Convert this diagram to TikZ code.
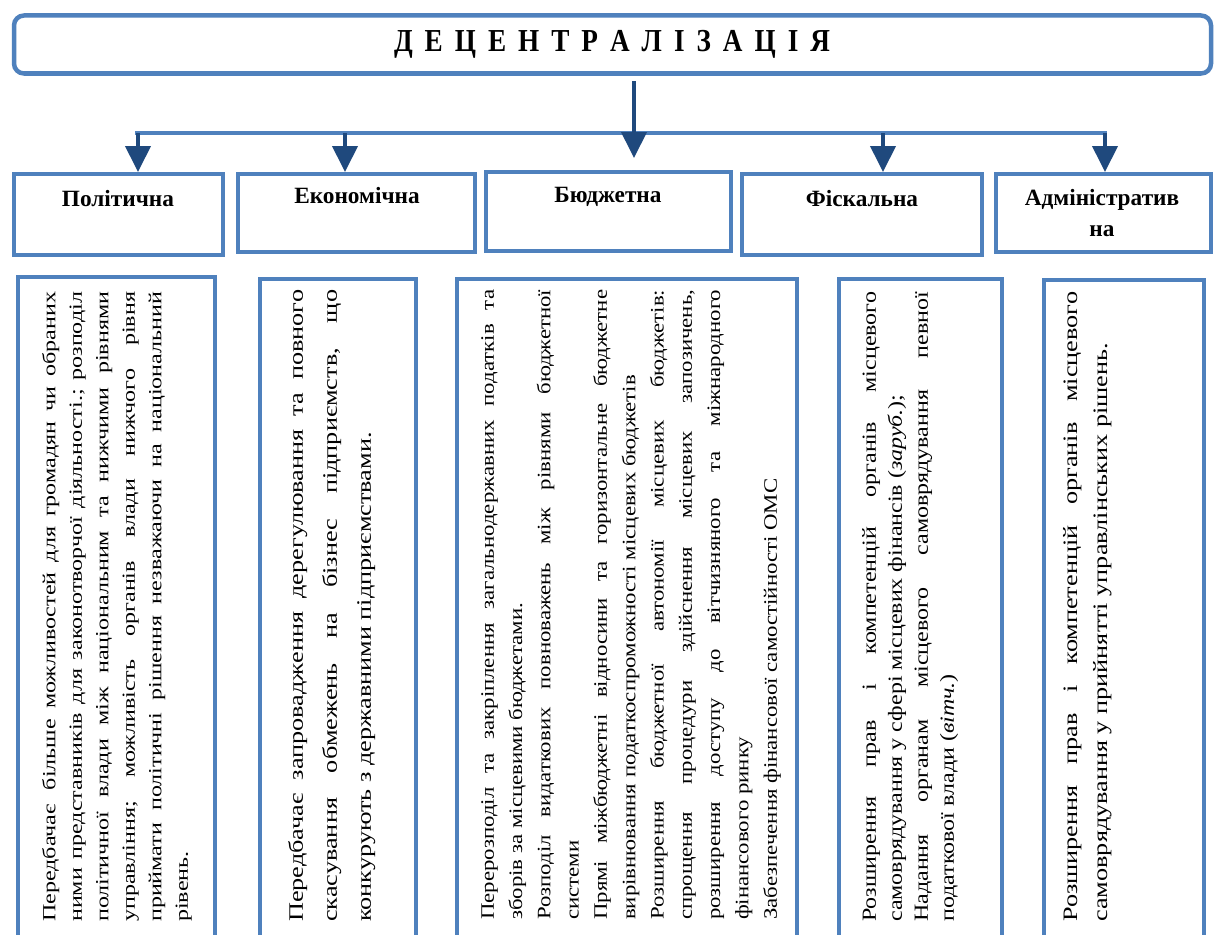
\documentclass[tikz,border=0pt]{standalone}
\usepackage{fontspec}
\setmainfont{Liberation Serif}
\usetikzlibrary{arrows.meta}
\definecolor{lblue}{HTML}{4F81BD}
\definecolor{dblue}{HTML}{1F497D}
\newcommand\jline[1]{\hbox to\hsize{#1}}
\newcommand\lline[1]{\hbox{#1}}
\newcommand\vtxt[3]{\vbox{\frenchspacing\hsize=#1\baselineskip=#2\lineskiplimit=-100pt\lineskip=0pt #3}}
\newcommand\rfont[2]{\fontsize{#1}{#1}\selectfont\addfontfeature{FakeStretch=#2}}
\newcommand\tg{\hspace{12pt}}
\begin{document}
\begin{tikzpicture}[x=1pt,y=-1pt,
  titlebox/.style={draw=lblue,line width=4.5pt,rounded corners=10pt,inner sep=0pt},
  headbox/.style={draw=lblue,line width=4pt,inner sep=0pt},
  lowbox/.style={draw=lblue,line width=4.5pt,inner sep=0pt},
  headtext/.style={font=\fontsize{23.3}{31}\selectfont\bfseries,align=center,inner sep=0pt},
  rtext/.style={rotate=90,anchor=north west,inner sep=0pt},
  barline/.style={draw=lblue,line width=4pt},
  arr/.style={draw=dblue,line width=4pt,-{Triangle[width=25pt,length=26pt]}}]
\useasboundingbox (0,0) rectangle (1215,934);
\clip (0,0) rectangle (1215,934);
\fill[white] (0,0) rectangle (1215,934);
% title
\node[titlebox,minimum width=1197pt,minimum height=58pt] (title) at (612.5,44.5) {};
\node[font=\fontsize{32}{32}\selectfont\bfseries\addfontfeature{FakeStretch=0.85},inner sep=0pt] (ttext) at (612,44) {Д\tg Е\tg Ц\tg Е\tg Н\tg Т\tg Р\tg А\tg Л\tg І\tg З\tg А\tg Ц\tg І\tg Я};
% header boxes
\node[headbox,minimum width=209pt,minimum height=81pt] (h1) at (118.5,214.5) {};
\node[headbox,minimum width=237pt,minimum height=78pt] (h2) at (356.5,213) {};
\node[headbox,minimum width=245pt,minimum height=79pt] (h3) at (608.5,211.5) {};
\node[headbox,minimum width=240pt,minimum height=81pt] (h4) at (862,214.5) {};
\node[headbox,minimum width=215pt,minimum height=78pt] (h5) at (1103.5,213) {};
\node[headtext] (n1) at (118,199) {Політична};
\node[headtext] (n2) at (357,196) {Економічна};
\node[headtext] (n3) at (608,197) {Бюджетна};
\node[headtext] (n4) at (862,199) {Фіскальна};
\node[headtext] (n5) at (1102,213) {Адміністратив\\на};
% connectors
\coordinate (bl) at (135,133);
\coordinate (br) at (1107,133);
\coordinate (s1) at (138,133);
\coordinate (s2) at (345,133);
\coordinate (s4) at (883,133);
\coordinate (s5) at (1105,133);
\coordinate (c0) at (634,81);
\coordinate (c1) at (634,158);
\draw[barline] (bl) -- (br);
\draw[arr] (s1) -- (s1 |- h1.north);
\draw[arr] (s2) -- (s2 |- h2.north);
\draw[arr] (s4) -- (s4 |- h4.north);
\draw[arr] (s5) -- (s5 |- h5.north);
\draw[arr] (c0) -- (c1);
% lower boxes
\node[lowbox,minimum width=197pt,minimum height=680pt] (b1) at (116.5,617) {};
\node[lowbox,minimum width=156pt,minimum height=680pt] (b2) at (338,619) {};
\node[lowbox,minimum width=340pt,minimum height=680pt] (b3) at (627,619) {};
\node[lowbox,minimum width=163pt,minimum height=680pt] (b4) at (920.5,619) {};
\node[lowbox,minimum width=160pt,minimum height=680pt] (b5) at (1124,620) {};
% rotated texts
\node[rtext] (t1) at (42,922) {\rfont{18.5}{1.3}\vtxt{630pt}{26.5pt}{%
\jline{Передбачає\hspace{4pt} більше можливостей для громадян чи обраних}
\jline{ними представників для законотворчої діяльності.; розподіл}
\jline{політичної влади між національним та нижчими рівнями}
\jline{управління; можливість органів влади нижчого рівня}
\jline{приймати політичні рішення незважаючи на національний}
\lline{рівень.}}};
\node[rtext] (t2) at (288,922) {\rfont{20.5}{1.28}\vtxt{632pt}{34pt}{%
\jline{Передбачає запровадження дерегулювання та повного}
\jline{скасування обмежень на бізнес підприємств, що}
\lline{конкурують з державними підприємствами.}}};
\begin{scope}
\clip (456,282) rectangle (783,934);
\node[rtext] (t3) at (481,920) {\rfont{19}{1.2}\vtxt{630pt}{28.3pt}{%
\jline{Перерозподіл та закріплення загальнодержавних податків та}
\lline{зборів за місцевими бюджетами.}
\jline{Розподіл видаткових повноважень між рівнями бюджетної}
\lline{системи}
\jline{Прямі міжбюджетні відносини та горизонтальне бюджетне}
\lline{вирівнювання податкоспроможності місцевих бюджетів}
\jline{Розширення бюджетної автономії місцевих бюджетів:}
\jline{спрощення процедури здійснення місцевих запозичень,}
\jline{розширення доступу до вітчизняного та міжнародного}
\lline{фінансового ринку}
\lline{Забезпечення фінансової самостійності ОМС}}};
\end{scope}
\node[rtext] (t4) at (862,922) {\rfont{20}{1.2}\vtxt{630pt}{26pt}{%
\jline{Розширення прав і компетенцій органів місцевого}
\lline{самоврядування у сфері місцевих фінансів (\textit{заруб.});}
\jline{Надання органам місцевого самоврядування певної}
\lline{податкової влади (\textit{вітч.})}}};
\node[rtext] (t5) at (1063,922) {\rfont{20.5}{1.28}\vtxt{630pt}{30pt}{%
\jline{Розширення прав і компетенцій органів місцевого}
\lline{самоврядування у прийнятті управлінських рішень.}}};
\end{tikzpicture}
\end{document}
